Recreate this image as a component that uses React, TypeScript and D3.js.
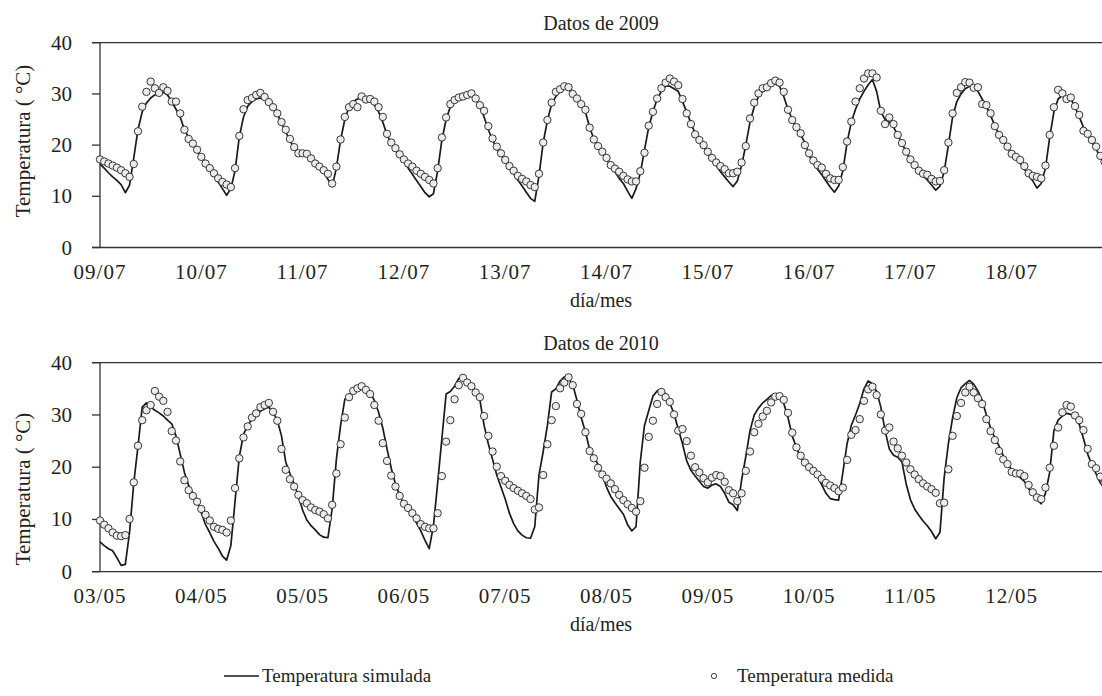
import React from 'react';
import * as d3 from 'd3';

// hourly readings, one row per day
const measured2009 = [
  [17.2, 16.8, 16.4, 16.0, 15.6, 15.1, 14.5, 13.8, 16.3, 22.7, 27.5, 30.4, 32.4, 31.1, 30.2, 31.3, 30.6, 28.5, 28.5, 26.2, 23.0, 21.2, 20.3, 19.1],
  [17.7, 16.4, 15.5, 14.5, 13.5, 12.8, 12.3, 11.8, 15.5, 21.8, 27.0, 28.8, 29.2, 29.8, 30.2, 29.4, 28.4, 27.4, 26.2, 24.5, 23.0, 21.2, 19.6, 18.4],
  [18.4, 18.3, 17.4, 16.4, 15.8, 15.1, 14.4, 12.5, 15.8, 21.1, 25.5, 27.4, 28.0, 27.4, 29.5, 28.9, 29.0, 28.5, 27.4, 25.5, 22.2, 20.5, 19.4, 18.2],
  [17.2, 16.4, 15.8, 15.0, 14.4, 13.8, 13.2, 12.5, 15.5, 21.5, 25.4, 28.0, 28.8, 29.3, 29.5, 29.8, 30.1, 29.1, 27.8, 26.7, 23.7, 21.3, 19.7, 18.4],
  [17.1, 15.9, 15.0, 14.0, 13.4, 12.9, 12.2, 11.8, 14.4, 20.5, 24.9, 28.3, 30.4, 30.9, 31.5, 31.3, 30.0, 29.1, 28.0, 26.9, 23.4, 21.1, 19.8, 18.7],
  [17.5, 16.1, 15.4, 14.8, 14.0, 13.3, 12.9, 12.9, 14.9, 18.5, 23.8, 26.5, 29.1, 31.1, 32.2, 33.0, 32.4, 31.7, 29.0, 26.2, 24.1, 22.1, 21.0, 20.0],
  [18.7, 17.5, 16.6, 15.9, 15.3, 14.5, 14.5, 14.8, 16.6, 19.8, 25.2, 28.3, 30.1, 31.1, 31.3, 32.1, 32.6, 32.2, 30.4, 26.9, 24.9, 23.5, 22.3, 20.0],
  [18.4, 17.0, 16.1, 15.6, 14.4, 13.5, 13.2, 13.2, 15.7, 20.7, 24.6, 28.5, 31.1, 33.0, 34.0, 34.0, 33.2, 26.7, 24.1, 25.4, 24.1, 22.0, 20.4, 18.7],
  [17.2, 16.1, 15.0, 14.4, 14.2, 13.4, 12.9, 13.0, 15.1, 20.5, 26.2, 30.2, 31.3, 32.3, 32.2, 31.2, 31.3, 28.0, 27.8, 26.2, 23.7, 22.0, 21.0, 19.7],
  [18.3, 17.7, 17.1, 15.9, 14.5, 14.0, 13.8, 13.5, 16.0, 22.0, 27.4, 30.8, 30.1, 29.0, 29.3, 27.6, 25.9, 22.8, 22.2, 21.0, 19.7, 17.9, 16.8, 16.0],
].flat();

const simulated2009 = [
  [16.3, 15.5, 14.6, 13.8, 13.1, 12.3, 10.7, 12.2, 17.5, 23.0, 26.5, 28.2, 29.2, 29.8, 30.2, 30.3, 29.8, 28.5, 27.0, 25.5, 23.0, 21.5, 20.2, 18.8],
  [17.8, 16.5, 15.3, 14.0, 12.8, 11.5, 10.2, 11.5, 15.0, 21.6, 25.5, 27.6, 28.5, 29.0, 29.2, 29.0, 28.2, 27.2, 26.0, 24.4, 22.6, 20.9, 19.4, 18.2],
  [18.3, 17.9, 17.2, 16.3, 15.5, 14.7, 13.3, 11.9, 15.5, 21.0, 25.0, 27.5, 28.5, 29.0, 29.5, 29.3, 28.8, 27.8, 26.5, 24.5, 22.0, 20.3, 19.0, 17.8],
  [17.0, 15.5, 14.3, 13.1, 11.9, 10.7, 9.9, 10.5, 15.0, 21.0, 25.0, 27.5, 28.5, 29.0, 29.3, 29.5, 29.6, 29.0, 27.5, 25.5, 23.0, 21.0, 19.3, 18.0],
  [17.0, 15.6, 14.4, 13.2, 12.0, 10.8, 9.6, 9.0, 14.0, 20.5, 24.8, 28.0, 29.5, 30.5, 31.0, 31.0, 30.0, 29.0, 27.8, 26.5, 23.5, 21.2, 19.8, 18.5],
  [17.3, 16.0, 14.8, 13.5, 12.5, 11.0, 9.6, 11.5, 14.5, 19.0, 23.5, 26.5, 29.0, 30.5, 31.5, 31.5, 31.0, 30.5, 28.5, 26.5, 24.3, 22.3, 21.0, 19.8],
  [18.3, 17.0, 16.0, 14.8, 13.8, 12.8, 11.9, 13.0, 16.0, 20.0, 24.5, 27.5, 29.5, 30.5, 31.2, 31.8, 32.0, 31.5, 29.5, 27.0, 25.0, 23.3, 22.0, 20.5],
  [18.0, 16.5, 15.3, 14.2, 13.0, 11.8, 10.8, 12.0, 15.0, 20.5, 24.5, 27.0, 29.0, 30.5, 31.8, 32.8, 30.5, 26.5, 25.0, 24.5, 23.5, 22.0, 20.3, 18.7],
  [17.0, 15.8, 14.8, 14.0, 13.2, 12.2, 11.2, 12.0, 14.8, 20.0, 25.5, 28.5, 30.0, 31.0, 31.5, 31.3, 30.5, 29.0, 27.5, 25.8, 23.8, 22.0, 20.8, 19.5],
  [18.2, 17.3, 16.5, 15.3, 14.0, 13.0, 11.6, 12.5, 15.5, 21.5, 26.5, 29.0, 29.7, 29.5, 29.0, 27.5, 25.5, 23.5, 22.0, 20.5, 19.3, 17.5, 16.5, 15.8],
].flat();

const measured2010 = [
  [9.8, 9.0, 8.3, 7.5, 6.9, 6.8, 7.0, 10.1, 17.1, 24.1, 29.0, 30.9, 31.9, 34.6, 33.5, 32.7, 30.6, 26.9, 25.1, 21.1, 17.5, 15.6, 14.5, 13.4],
  [12.0, 10.9, 9.8, 8.6, 8.2, 8.0, 7.5, 9.8, 16.0, 21.7, 25.7, 27.8, 29.5, 30.3, 31.5, 31.9, 32.3, 30.6, 28.9, 23.5, 19.5, 17.7, 16.3, 14.7],
  [13.7, 13.1, 12.3, 11.8, 11.5, 11.0, 10.2, 12.8, 18.8, 24.4, 29.5, 33.4, 34.6, 35.1, 35.5, 34.8, 34.0, 31.9, 28.9, 24.6, 21.2, 18.4, 16.3, 14.5],
  [13.0, 12.2, 11.2, 10.2, 9.1, 8.6, 8.3, 8.3, 11.2, 18.3, 24.9, 29.0, 33.0, 35.7, 37.1, 36.2, 35.5, 34.3, 33.4, 29.8, 26.0, 23.0, 20.1, 18.3],
  [17.4, 16.6, 16.0, 15.5, 15.0, 14.5, 13.9, 11.9, 12.3, 18.5, 24.4, 29.0, 31.7, 35.1, 36.2, 37.2, 35.7, 32.1, 30.2, 26.7, 23.1, 21.7, 19.9, 18.6],
  [17.8, 16.9, 15.8, 14.7, 13.7, 12.9, 12.2, 11.5, 13.5, 19.9, 25.8, 28.9, 32.1, 34.4, 33.4, 32.5, 30.1, 27.0, 27.3, 25.0, 22.2, 20.0, 19.0, 17.9],
  [17.1, 18.0, 18.5, 18.3, 17.2, 15.6, 15.0, 13.5, 15.0, 19.3, 23.0, 26.7, 28.3, 29.7, 30.8, 32.4, 33.5, 33.6, 32.9, 30.4, 26.6, 23.8, 22.2, 20.9],
  [20.0, 19.3, 18.6, 17.8, 17.0, 16.5, 16.0, 15.4, 16.1, 21.4, 26.2, 27.1, 29.2, 32.7, 34.9, 35.4, 33.8, 30.1, 27.0, 27.6, 24.9, 23.6, 22.2, 20.9],
  [19.6, 18.6, 17.7, 16.9, 16.3, 15.8, 15.1, 13.1, 13.2, 19.6, 26.0, 29.8, 32.3, 34.3, 35.4, 34.3, 33.2, 32.1, 29.2, 26.9, 25.2, 23.1, 21.5, 20.6],
  [19.1, 18.8, 18.8, 18.3, 16.6, 15.2, 14.2, 13.9, 16.1, 19.9, 24.1, 27.6, 30.5, 31.9, 31.6, 29.9, 29.0, 27.1, 23.5, 20.6, 19.8, 18.2, 17.0, 16.0],
].flat();

const simulated2010 = [
  [5.7, 5.0, 4.4, 4.0, 2.7, 1.2, 1.4, 7.5, 17.0, 24.0, 31.5, 32.3, 31.5, 30.9, 30.4, 29.8, 29.0, 28.3, 26.0, 22.5, 19.0, 16.5, 15.0, 13.5],
  [11.3, 9.0, 7.5, 5.8, 4.5, 3.0, 2.2, 5.0, 13.5, 22.0, 26.3, 28.0, 29.2, 30.0, 30.7, 31.2, 31.5, 30.5, 29.0, 26.0, 21.0, 18.8, 16.8, 14.5],
  [11.8, 9.9, 8.8, 8.0, 7.1, 6.6, 6.5, 12.0, 21.5, 28.0, 33.0, 33.6, 34.8, 35.3, 35.6, 35.2, 34.3, 32.8, 30.5, 27.5, 23.5, 19.8, 16.8, 14.6],
  [12.8, 11.9, 10.9, 9.3, 7.8, 6.0, 4.4, 8.8, 17.0, 25.5, 34.0, 34.5, 35.5, 37.0, 37.0, 36.4, 35.5, 34.5, 32.9, 28.0, 24.5, 21.5, 18.5, 16.2],
  [13.9, 11.2, 9.2, 7.8, 7.0, 6.5, 6.4, 8.6, 18.5, 23.0, 28.0, 34.4, 35.0, 36.5, 37.3, 37.0, 35.8, 32.8, 29.5, 26.8, 23.4, 22.0, 20.5, 18.5],
  [16.2, 14.4, 13.2, 12.1, 11.0, 9.0, 7.8, 8.6, 21.0, 28.0, 30.8, 33.6, 34.6, 34.9, 34.0, 32.3, 30.2, 27.3, 24.5, 21.2, 19.4, 18.3, 17.3, 16.3],
  [16.0, 16.6, 16.8, 16.3, 15.0, 13.3, 12.8, 11.7, 17.5, 22.0, 27.0, 30.0, 31.3, 32.3, 33.0, 33.7, 34.0, 33.8, 32.2, 29.5, 26.0, 23.8, 21.8, 20.6],
  [20.0, 19.2, 18.2, 16.6, 15.0, 14.0, 13.8, 13.7, 19.0, 24.5, 28.0, 30.0, 32.2, 35.0, 36.5, 36.0, 34.5, 31.5, 27.0, 23.5, 22.3, 21.9, 21.0, 16.8],
  [13.8, 12.0, 10.8, 9.7, 8.8, 7.7, 6.3, 7.5, 18.0, 24.5, 29.5, 33.3, 35.2, 36.0, 36.6, 35.9, 34.6, 32.8, 30.0, 27.5, 25.6, 24.1, 22.2, 20.6],
  [19.5, 18.6, 18.0, 17.3, 15.9, 14.8, 13.8, 13.0, 15.0, 19.0, 27.0, 29.0, 29.8, 30.3, 30.1, 29.6, 28.2, 25.5, 22.5, 20.5, 18.7, 17.0, 16.0, 15.3],
].flat();

const days2009 = ['09/07', '10/07', '11/07', '12/07', '13/07', '14/07', '15/07', '16/07', '17/07', '18/07'];
const days2010 = ['03/05', '04/05', '05/05', '06/05', '07/05', '08/05', '09/05', '10/05', '11/05', '12/05'];
const yTicks = [0, 10, 20, 30, 40];

const W = 1102;
const H = 696;
const FONT = "'Liberation Serif', 'DejaVu Serif', serif";
const INK = '#231f20';
const left = 100;
const dayW = 101.3;

type PanelProps = {
  title: string;
  days: string[];
  measured: number[];
  simulated: number[];
  top: number;
  bottom: number;
  labelY: number;
};

function Panel({ title, days, measured, simulated, top, bottom, labelY }: PanelProps) {
  const x = d3.scaleLinear().domain([0, 240]).range([left, left + dayW * 10]);
  const y = d3.scaleLinear().domain([0, 40]).range([bottom, top]);
  const line = d3.line<number>()
    .x((_, i) => x(i))
    .y(d => y(d));

  return (
    <g>
      <text x={601} y={top - 13} textAnchor="middle" fontSize={20} fill={INK}>{title}</text>
      {/* frame */}
      <line x1={left - 8} x2={W} y1={y(40)} y2={y(40)} stroke="#333" strokeWidth={1.3} />
      <line x1={left - 8} x2={W} y1={y(0)} y2={y(0)} stroke="#333" strokeWidth={1.3} />
      <line x1={left} x2={left} y1={y(0)} y2={y(40)} stroke="#333" strokeWidth={1.3} />
      {yTicks.map(t => (
        <g key={t}>
          <line x1={left - 8} x2={left} y1={y(t)} y2={y(t)} stroke="#333" strokeWidth={1.3} />
          <text x={72} y={y(t) + 7} textAnchor="end" fontSize={21} fill={INK}>{t}</text>
        </g>
      ))}
      {days.map((d, i) => (
        <text key={d} x={x(i * 24)} y={bottom + 31} textAnchor="middle" fontSize={21}
          letterSpacing={1} fill={INK}>{d}</text>
      ))}
      <text x={601} y={bottom + 59} textAnchor="middle" fontSize={20} fill={INK}>día/mes</text>
      <text transform={`translate(30,${labelY}) rotate(-90)`} textAnchor="middle" fontSize={21} fill={INK}>
        Temperatura ( °C)
      </text>
      <path d={line(simulated) ?? ''} fill="none" stroke="#1a1a1a" strokeWidth={1.7} strokeLinejoin="round" />
      {measured.map((v, i) => (
        <circle key={i} cx={x(i)} cy={y(v)} r={3.7} fill="#ececec" stroke="#222" strokeWidth={0.9} />
      ))}
    </g>
  );
}

export default function App() {
  return (
    <div style={{ position: 'absolute', left: 0, top: 0 }}>
      <svg width={W} height={H} style={{ display: 'block', background: '#fff', fontFamily: FONT }}>
        <Panel title="Datos de 2009" days={days2009} measured={measured2009} simulated={simulated2009}
          top={42.7} bottom={247.5} labelY={141} />
        <Panel title="Datos de 2010" days={days2010} measured={measured2010} simulated={simulated2010}
          top={362.7} bottom={571.7} labelY={489} />
        <g fontSize={19} fill={INK}>
          <line x1={224} x2={259} y1={676} y2={676} stroke="#1a1a1a" strokeWidth={1.6} />
          <text x={262} y={682}>Temperatura simulada</text>
          <circle cx={714} cy={676} r={2.6} fill="#fff" stroke="#222" strokeWidth={0.9} />
          <text x={737} y={682}>Temperatura medida</text>
        </g>
      </svg>
    </div>
  );
}
